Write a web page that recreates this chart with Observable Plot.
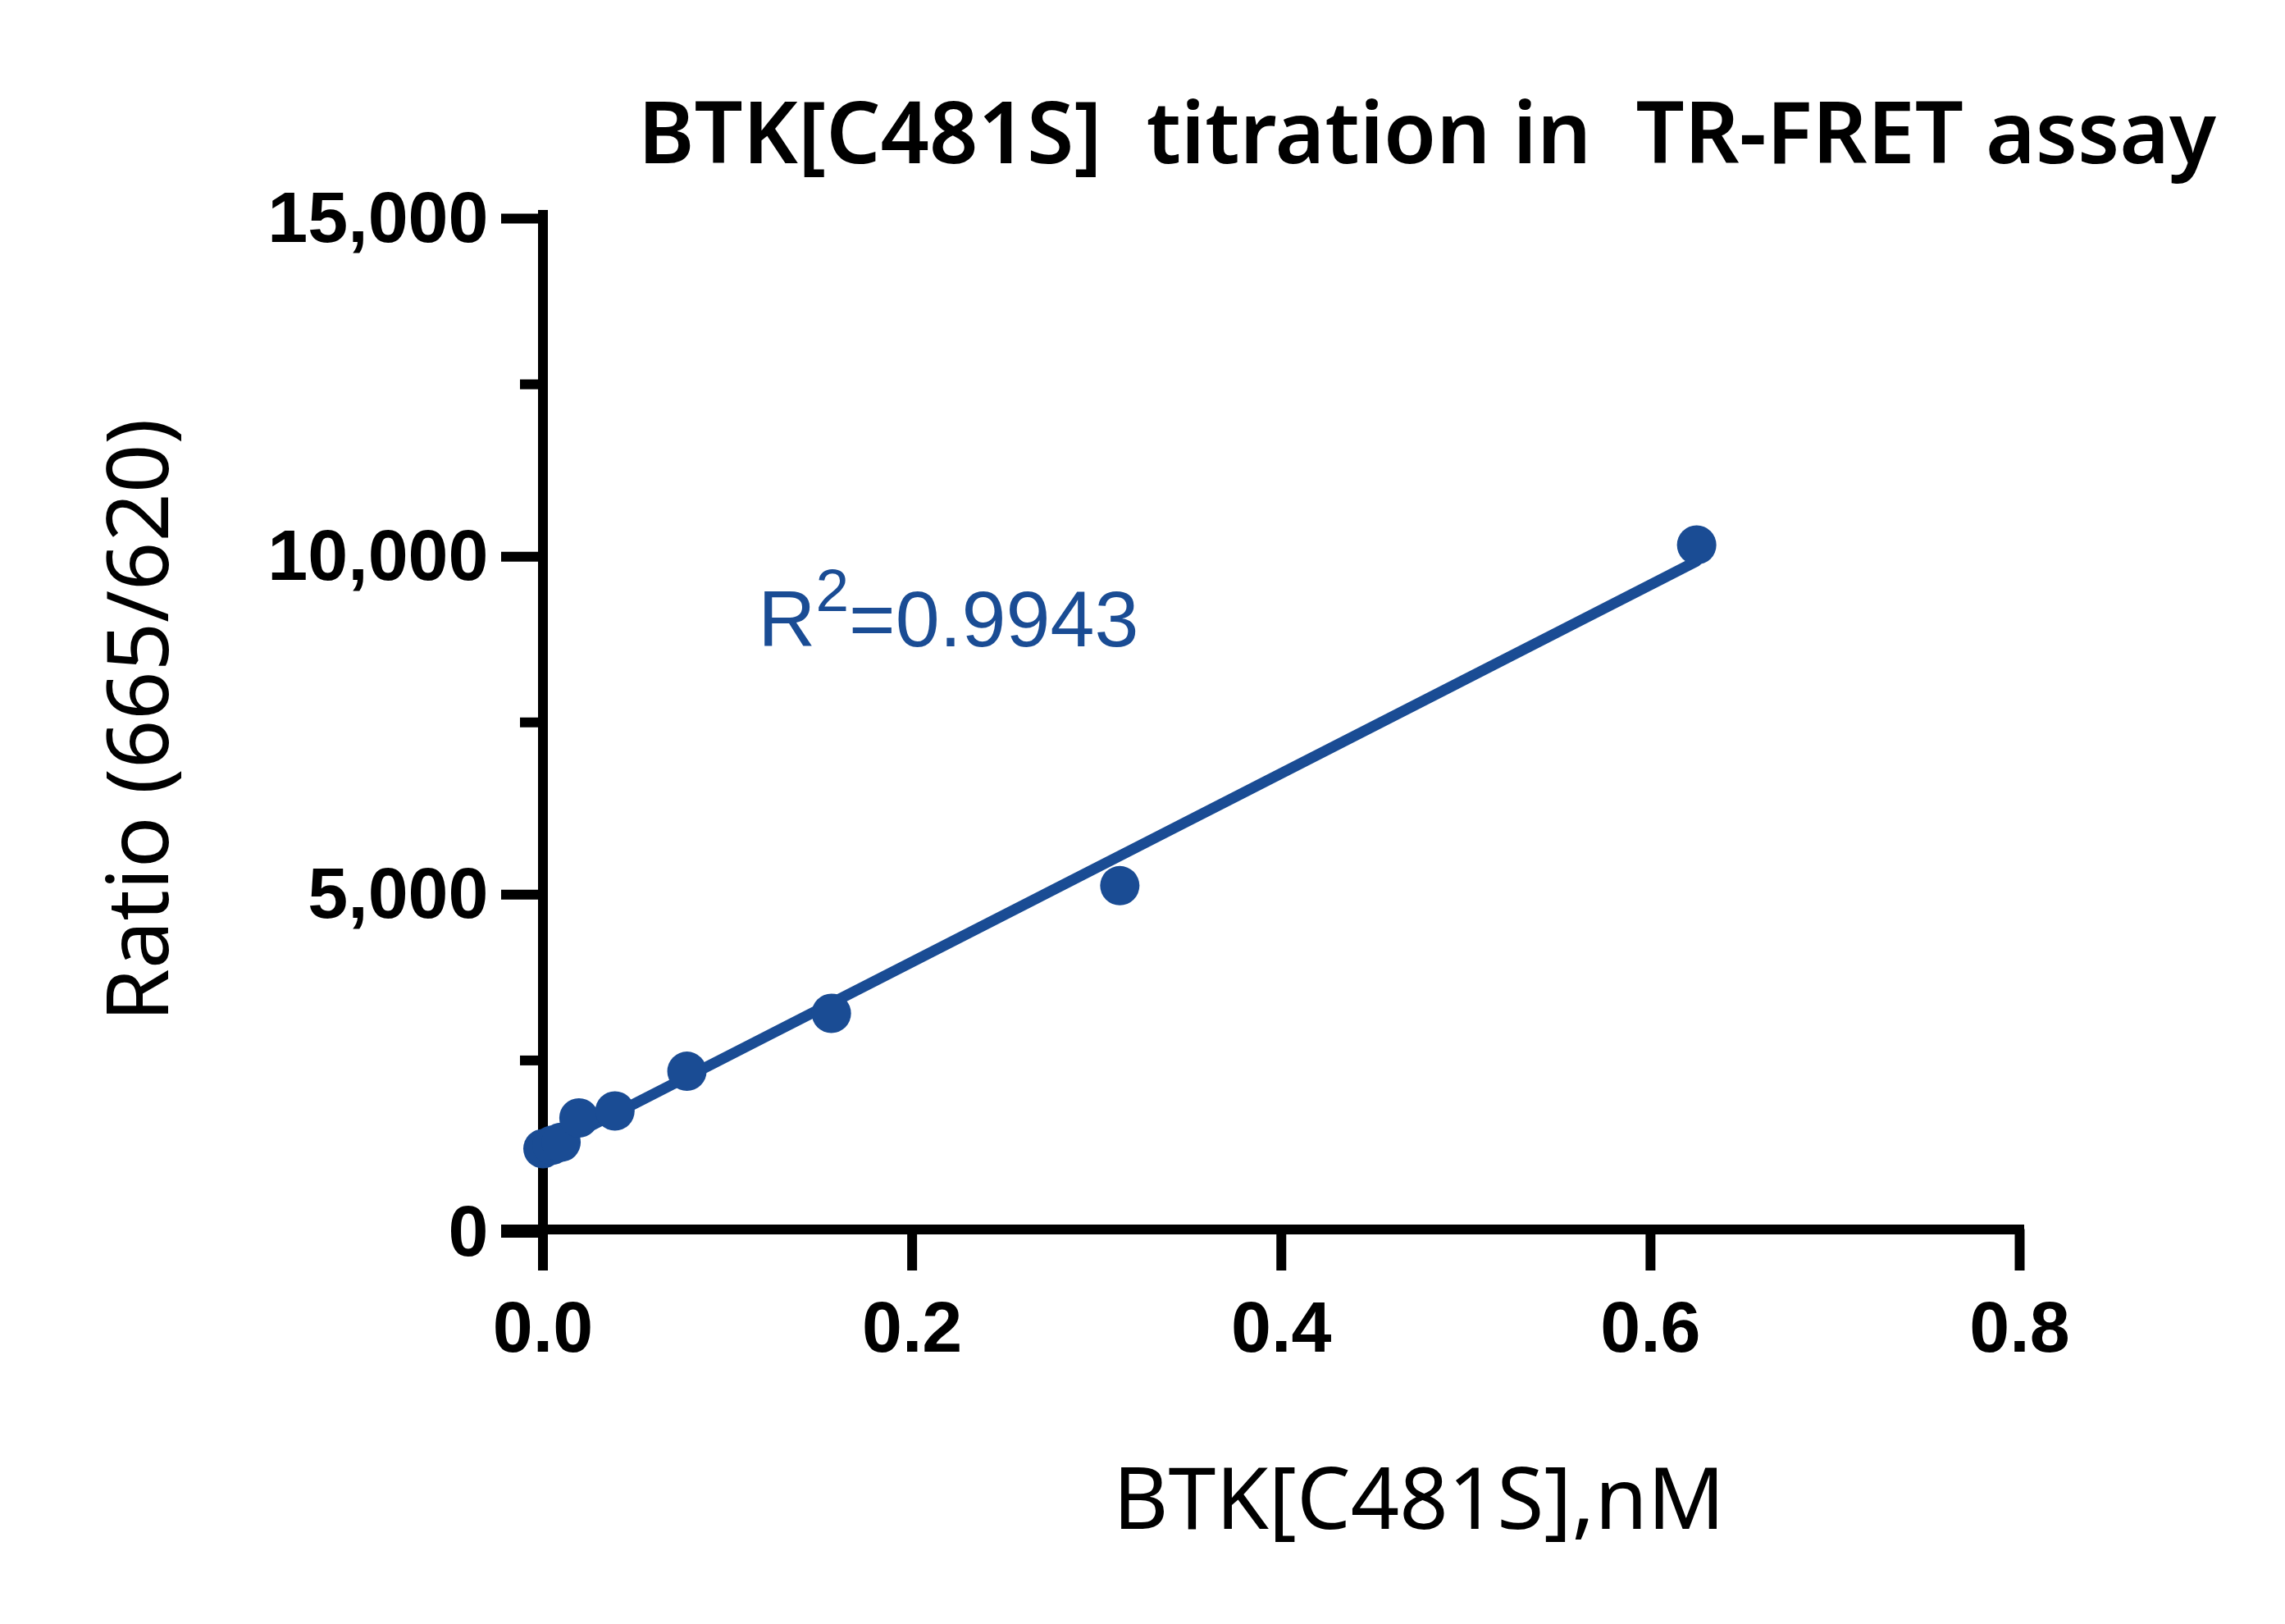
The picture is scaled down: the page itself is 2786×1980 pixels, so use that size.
<!DOCTYPE html>
<html>
<head>
<meta charset="utf-8">
<script src="https://cdn.jsdelivr.net/npm/d3@7"></script>
<script src="https://cdn.jsdelivr.net/npm/@observablehq/plot@0.6"></script>
<style>
  html, body { margin: 0; padding: 0; background: #ffffff; }
  #chart svg { display: block; }
</style>
</head>
<body>
<div id="chart"></div>
<script>
// ---- data ----
const concentrations = [0, 0.0049, 0.0098, 0.0195, 0.039, 0.078, 0.15625, 0.3125, 0.625]; // nM
const ratios = [1195, 1245, 1290, 1650, 1753, 2340, 3197, 5085, 10124];
const xTicks = [0, 0.2, 0.4, 0.6, 0.8];
const yMajorTicks = [0, 5000, 10000, 15000];
const yMinorTicks = [2500, 7500, 12500];
const rSquaredLabel = ["R", "2", "=0.9943"];
const titleText = "BTK[C481S]  titration in  TR-FRET assay";
const xLabelText = "BTK[C481S],nM";
const yLabelText = "Ratio (665/620)";

const blue = "#1a4c94";
const tickFont = "'Liberation Sans', Arial, sans-serif";
const labelFont = "'Noto Sans', 'Open Sans', sans-serif";

const data = concentrations.map((c, i) => ({conc: c, ratio: ratios[i]}));

const plot = Plot.plot({
  width: 2786,
  height: 1980,
  marginLeft: 661.5,
  marginRight: 324,
  marginTop: 262,
  marginBottom: 481.5,
  style: {background: "#ffffff", fontFamily: tickFont, color: "#000"},
  x: {domain: [0, 0.8]},
  y: {domain: [0, 15000]},
  marks: [
    Plot.axisY(yMajorTicks, {
      tickSize: 50.5, tickPadding: 16, strokeWidth: 12,
      tickFormat: d3.format(","), fontSize: 88, fontWeight: "bold",
      fontFamily: tickFont, dy: 4, label: null
    }),
    Plot.axisY(yMinorTicks, {tickSize: 27.5, strokeWidth: 12, text: null, label: null}),
    Plot.axisX(xTicks, {
      tickSize: 50.5, tickPadding: 36, strokeWidth: 12,
      tickFormat: d3.format(".1f"), fontSize: 88, fontWeight: "bold",
      fontFamily: tickFont, label: null
    }),
    Plot.ruleX([0], {y1: 15000, y2: 0, insetTop: -6, insetBottom: -50.5, strokeWidth: 12, stroke: "#000"}),
    Plot.ruleY([0], {x1: 0, x2: 0.8, insetLeft: -50.5, insetRight: -6, strokeWidth: 12, stroke: "#000"}),
    Plot.linearRegressionY(data, {x: "conc", y: "ratio", ci: 0, stroke: blue, strokeWidth: 13}),
    Plot.dot(data, {x: "conc", y: "ratio", r: 24, fill: blue, stroke: "none"})
  ]
});

document.getElementById("chart").appendChild(plot);

const svg = d3.select(plot);
const xs = plot.scale("x"), ys = plot.scale("y");

// R² annotation placed in data space
const rt = svg.append("text")
  .attr("x", xs.apply(0.1168))
  .attr("y", ys.apply(8620))
  .attr("text-anchor", "start")
  .attr("fill", blue)
  .attr("font-family", tickFont)
  .attr("font-size", 97);
rt.append("tspan").text(rSquaredLabel[0]);
rt.append("tspan").attr("font-size", 73).attr("dy", -43).text(rSquaredLabel[1]);
rt.append("tspan").attr("dy", 43).text(rSquaredLabel[2]);

// Title
svg.append("text")
  .attr("x", 1740).attr("y", 199)
  .attr("text-anchor", "middle")
  .attr("font-family", labelFont)
  .attr("font-weight", 600)
  .attr("font-size", 104)
  .attr("fill", "#000")
  .attr("xml:space", "preserve")
  .style("white-space", "pre")
  .text(titleText);

// X axis label
svg.append("text")
  .attr("x", 1730).attr("y", 1864)
  .attr("text-anchor", "middle")
  .attr("font-family", labelFont)
  .attr("font-size", 104)
  .attr("fill", "#000")
  .text(xLabelText);

// Y axis label
svg.append("text")
  .attr("transform", "translate(205,878) rotate(-90)")
  .attr("text-anchor", "middle")
  .attr("font-family", labelFont)
  .attr("font-size", 104)
  .attr("fill", "#000")
  .text(yLabelText);
</script>
</body>
</html>
